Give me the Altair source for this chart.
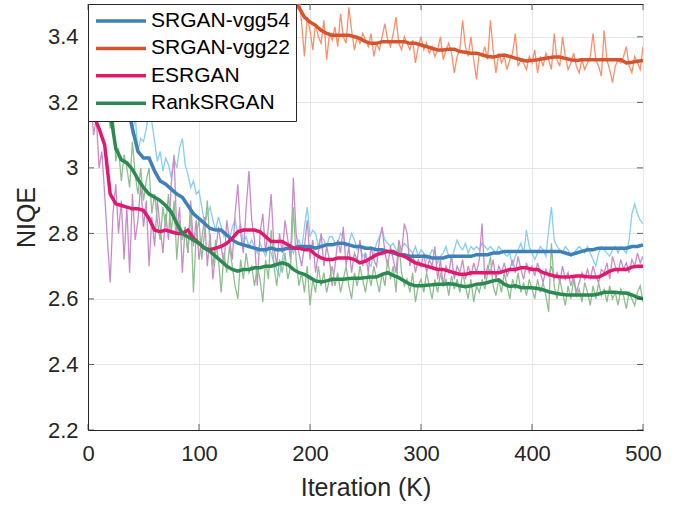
import altair as alt
import pandas as pd

SERIES = ["SRGAN-vgg54", "SRGAN-vgg22", "ESRGAN", "RankSRGAN"]
THICK_COLORS = ["#4080b8", "#d5532f", "#e0196d", "#2a8a52"]
THIN_COLORS = ["#86cdf7", "#ff8d68", "#c98bc9", "#8fbf8f"]

X_TICKS = [0, 100, 200, 300, 400, 500]
Y_TICKS = [2.2, 2.4, 2.6, 2.8, 3.0, 3.2, 3.4]

ITER_SMOOTH = [5 * i for i in range(101)]
ITER_RAW = [2.5 * i for i in range(201)]

VGG54_SMOOTH = [
    3.90, 3.80, 3.70, 3.60, 3.50, 3.40, 3.30, 3.20, 3.12, 3.05,
    3.03, 3.03, 2.99, 2.96, 2.95, 2.935, 2.92, 2.91, 2.885, 2.86,
    2.845, 2.83, 2.815, 2.81, 2.81, 2.795, 2.78, 2.77, 2.765, 2.76,
    2.755, 2.75, 2.75, 2.755, 2.75, 2.75, 2.755, 2.755, 2.76, 2.76,
    2.76, 2.755, 2.76, 2.765, 2.765, 2.77, 2.77, 2.765, 2.76, 2.76,
    2.755, 2.755, 2.75, 2.75, 2.745, 2.74, 2.735, 2.735, 2.73, 2.73,
    2.73, 2.73, 2.725, 2.725, 2.725, 2.73, 2.73, 2.73, 2.73, 2.73,
    2.735, 2.735, 2.735, 2.74, 2.74, 2.745, 2.745, 2.745, 2.745, 2.745,
    2.745, 2.745, 2.745, 2.745, 2.745, 2.745, 2.74, 2.735, 2.74, 2.745,
    2.75, 2.75, 2.755, 2.755, 2.755, 2.755, 2.755, 2.755, 2.76, 2.76, 2.765,
]
VGG22_SMOOTH = [
    4.80, 4.60, 4.45, 4.30, 4.20, 4.10, 4.00, 3.95, 3.90, 3.85,
    3.82, 3.80, 3.77, 3.75, 3.72, 3.70, 3.69, 3.68, 3.67, 3.66,
    3.65, 3.64, 3.63, 3.62, 3.61, 3.60, 3.59, 3.58, 3.575, 3.57,
    3.565, 3.56, 3.55, 3.545, 3.54, 3.535, 3.525, 3.51, 3.49, 3.46,
    3.445, 3.435, 3.42, 3.41, 3.405, 3.405, 3.405, 3.405, 3.40, 3.395,
    3.385, 3.38, 3.38, 3.385, 3.385, 3.385, 3.385, 3.385, 3.38, 3.38,
    3.375, 3.37, 3.365, 3.36, 3.36, 3.362, 3.362, 3.355, 3.353, 3.35,
    3.35, 3.345, 3.34, 3.338, 3.342, 3.344, 3.34, 3.335, 3.33, 3.326,
    3.328, 3.33, 3.333, 3.336, 3.338, 3.338, 3.334, 3.33, 3.328, 3.33,
    3.33, 3.33, 3.33, 3.33, 3.33, 3.33, 3.33, 3.32, 3.322, 3.325, 3.328,
]
ESRGAN_SMOOTH = [
    3.35, 3.16, 3.12, 3.07, 2.92, 2.89, 2.885, 2.88, 2.875, 2.875,
    2.87, 2.845, 2.81, 2.805, 2.81, 2.805, 2.80, 2.80, 2.81, 2.785,
    2.77, 2.755, 2.75, 2.755, 2.76, 2.77, 2.785, 2.805, 2.81, 2.81,
    2.81, 2.805, 2.79, 2.775, 2.775, 2.775, 2.765, 2.755, 2.755, 2.75,
    2.75, 2.735, 2.725, 2.72, 2.72, 2.725, 2.725, 2.725, 2.72, 2.71,
    2.715, 2.725, 2.735, 2.74, 2.745, 2.745, 2.735, 2.73, 2.72, 2.71,
    2.705, 2.70, 2.695, 2.69, 2.69, 2.685, 2.68, 2.675, 2.675, 2.68,
    2.68, 2.68, 2.68, 2.68, 2.68, 2.685, 2.69, 2.69, 2.695, 2.695,
    2.69, 2.69, 2.68, 2.675, 2.67, 2.668, 2.667, 2.668, 2.67, 2.67,
    2.668, 2.667, 2.667, 2.675, 2.685, 2.69, 2.69, 2.69, 2.697, 2.70, 2.70,
]
RANK_SMOOTH = [
    3.70, 3.55, 3.42, 3.30, 3.17, 3.06, 3.025, 3.015, 2.995, 2.965,
    2.94, 2.92, 2.91, 2.90, 2.885, 2.865, 2.83, 2.80, 2.79, 2.78,
    2.77, 2.755, 2.745, 2.73, 2.715, 2.70, 2.69, 2.685, 2.69, 2.69,
    2.695, 2.695, 2.70, 2.70, 2.705, 2.71, 2.705, 2.69, 2.68, 2.675,
    2.665, 2.655, 2.652, 2.655, 2.66, 2.66, 2.66, 2.662, 2.663, 2.663,
    2.665, 2.667, 2.667, 2.675, 2.68, 2.672, 2.665, 2.655, 2.645, 2.64,
    2.64, 2.642, 2.643, 2.645, 2.645, 2.646, 2.645, 2.64, 2.637, 2.64,
    2.645, 2.646, 2.65, 2.655, 2.658, 2.645, 2.638, 2.64, 2.635, 2.634,
    2.634, 2.632, 2.628, 2.622, 2.618, 2.615, 2.613, 2.612, 2.612, 2.612,
    2.612, 2.612, 2.615, 2.62, 2.62, 2.62, 2.618, 2.618, 2.612, 2.605, 2.60,
]

VGG54_RAW = [
    3.95, 3.88, 3.85, 3.80, 3.72, 3.74, 3.66, 3.62, 3.55, 3.58, 3.46, 3.42, 3.35, 3.38, 3.24, 3.22, 3.10, 3.16, 3.05, 3.09,
    3.08, 3.12, 3.18, 3.14, 3.08, 3.02, 3.05, 2.99, 3.03, 3.01, 2.97, 3.03, 3.00, 3.06, 3.09, 3.01, 2.98, 2.94, 2.96, 2.92,
    2.93, 2.88, 2.83, 2.86, 2.88, 2.84, 2.81, 2.85, 2.82, 2.79, 2.80, 2.78, 2.82, 2.84, 2.80, 2.83, 2.77, 2.79, 2.76, 2.78,
    2.76, 2.74, 2.77, 2.75, 2.73, 2.76, 2.74, 2.71, 2.69, 2.67, 2.72, 2.76, 2.75, 2.77, 2.74, 2.76, 2.78, 2.75, 2.82, 2.88,
    2.79, 2.81, 2.80, 2.76, 2.79, 2.78, 2.76, 2.79, 2.79, 2.77, 2.77, 2.80, 2.79, 2.76, 2.77, 2.80, 2.78, 2.75, 2.76, 2.73,
    2.74, 2.71, 2.70, 2.74, 2.77, 2.79, 2.81, 2.78, 2.77, 2.76, 2.77, 2.75, 2.73, 2.75, 2.77, 2.76, 2.75, 2.74, 2.76, 2.73,
    2.75, 2.74, 2.72, 2.73, 2.75, 2.74, 2.71, 2.73, 2.74, 2.76, 2.73, 2.72, 2.75, 2.78, 2.76, 2.75, 2.77, 2.74, 2.76, 2.75,
    2.76, 2.75, 2.77, 2.76, 2.75, 2.76, 2.75, 2.74, 2.76, 2.75, 2.74, 2.73, 2.74, 2.70, 2.73, 2.75, 2.77, 2.74, 2.81, 2.76,
    2.74, 2.72, 2.74, 2.76, 2.75, 2.73, 2.81, 2.88, 2.78, 2.76, 2.75, 2.74, 2.76, 2.75, 2.73, 2.74, 2.75, 2.76, 2.75, 2.74,
    2.76, 2.74, 2.72, 2.70, 2.74, 2.76, 2.75, 2.74, 2.73, 2.75, 2.76, 2.74, 2.76, 2.75, 2.74, 2.78, 2.86, 2.89, 2.86, 2.84, 2.83,
]
VGG22_RAW = [
    4.85, 4.78, 4.62, 4.66, 4.48, 4.52, 4.40, 4.33, 4.25, 4.28, 4.15, 4.20, 4.08, 4.12, 4.00, 4.05, 3.96, 3.92, 3.94, 3.86,
    3.84, 3.80, 3.82, 3.77, 3.80, 3.74, 3.77, 3.72, 3.75, 3.70, 3.72, 3.68, 3.71, 3.67, 3.69, 3.66, 3.68, 3.64, 3.67, 3.65,
    3.66, 3.62, 3.65, 3.63, 3.60, 3.64, 3.61, 3.63, 3.59, 3.62, 3.60, 3.57, 3.61, 3.58, 3.60, 3.56, 3.59, 3.57, 3.58, 3.52,
    3.57, 3.54, 3.49, 3.58, 3.55, 3.51, 3.56, 3.53, 3.48, 3.55, 3.52, 3.56, 3.49, 3.53, 3.51, 3.47, 3.53, 3.44, 3.34, 3.46,
    3.42, 3.36, 3.44, 3.40, 3.38, 3.45, 3.33, 3.41, 3.39, 3.43, 3.37, 3.47, 3.40, 3.38, 3.49, 3.42, 3.36, 3.40, 3.38, 3.41,
    3.39, 3.37, 3.41, 3.34, 3.38, 3.36, 3.40, 3.44, 3.39, 3.37, 3.41, 3.46, 3.38, 3.36, 3.40, 3.38, 3.36, 3.39, 3.32, 3.37,
    3.40, 3.36, 3.38, 3.35, 3.37, 3.34, 3.36, 3.40, 3.33, 3.36, 3.38, 3.35, 3.29, 3.34, 3.36, 3.45, 3.37, 3.34, 3.40, 3.33,
    3.27, 3.35, 3.34, 3.37, 3.33, 3.45, 3.36, 3.29, 3.35, 3.32, 3.34, 3.30, 3.33, 3.35, 3.41, 3.31, 3.33, 3.32, 3.30, 3.34,
    3.32, 3.36, 3.29, 3.34, 3.31, 3.35, 3.33, 3.30, 3.41, 3.33, 3.31, 3.40, 3.34, 3.30, 3.32, 3.35, 3.31, 3.29, 3.33, 3.30,
    3.32, 3.34, 3.41, 3.33, 3.31, 3.28, 3.42, 3.33, 3.30, 3.26, 3.31, 3.33, 3.32, 3.34, 3.37, 3.31, 3.29, 3.34, 3.32, 3.30, 3.37,
]
ESRGAN_RAW = [
    3.30, 3.22, 3.10, 3.15, 3.00, 3.05, 2.92, 2.78, 2.65, 2.86, 2.95, 2.80, 2.90, 2.72, 2.88, 2.68, 2.92, 2.78, 2.84, 2.95,
    2.82, 2.90, 2.70, 2.85, 2.76, 2.90, 2.82, 2.74, 2.86, 2.78, 2.95, 3.04, 2.80, 2.88, 2.68, 2.82, 2.74, 2.90, 2.76, 2.84,
    2.72, 2.78, 2.85, 2.70, 2.80, 2.66, 2.74, 2.82, 2.76, 2.70, 2.84, 2.78, 2.72, 2.86, 2.95, 2.80, 2.74, 2.88, 2.99, 2.84,
    2.78, 2.64, 2.80, 2.86, 2.74, 2.82, 2.92, 2.76, 2.70, 2.80, 2.74, 2.84, 2.78, 2.72, 2.97, 2.80, 2.74, 2.70, 2.76, 2.84,
    2.72, 2.78, 2.68, 2.74, 2.80, 2.70, 2.76, 2.72, 2.64, 2.70, 2.78, 2.74, 2.82, 2.70, 2.76, 2.68, 2.74, 2.72, 2.78, 2.70,
    2.74, 2.68, 2.76, 2.72, 2.70, 2.78, 2.82, 2.74, 2.70, 2.76, 2.72, 2.68, 2.78, 2.74, 2.83, 2.80, 2.70, 2.74, 2.68, 2.72,
    2.70, 2.74, 2.68, 2.72, 2.70, 2.76, 2.66, 2.72, 2.64, 2.70, 2.68, 2.73, 2.66, 2.70, 2.68, 2.72, 2.66, 2.70, 2.67, 2.71,
    2.68, 2.72, 2.83, 2.66, 2.70, 2.68, 2.72, 2.66, 2.70, 2.68, 2.71, 2.67, 2.69, 2.72, 2.68, 2.73, 2.69, 2.66, 2.71, 2.68,
    2.70, 2.67, 2.71, 2.68, 2.65, 2.69, 2.67, 2.70, 2.66, 2.68, 2.65, 2.70, 2.66, 2.68, 2.64, 2.67, 2.62, 2.65, 2.68, 2.66,
    2.69, 2.66, 2.70, 2.67, 2.65, 2.69, 2.68, 2.71, 2.66, 2.73, 2.70, 2.68, 2.72, 2.69, 2.71, 2.68, 2.72, 2.70, 2.74, 2.71, 2.73,
]
RANK_RAW = [
    3.72, 3.60, 3.55, 3.46, 3.40, 3.34, 3.28, 3.20, 3.12, 3.18, 3.02, 3.06, 2.96, 3.04, 3.00, 2.94, 3.08, 2.98, 2.92, 3.00,
    2.90, 2.96, 3.00, 2.86, 2.92, 2.84, 2.78, 2.88, 2.82, 2.92, 2.80, 2.90, 2.72, 2.84, 2.78, 2.82, 2.74, 2.87, 2.62, 2.80,
    2.84, 2.72, 2.80, 2.90, 2.76, 2.70, 2.78, 2.72, 2.62, 2.74, 2.68, 2.76, 2.70, 2.64, 2.60, 2.72, 2.66, 2.74, 2.68, 2.70,
    2.64, 2.70, 2.66, 2.59, 2.72, 2.66, 2.81, 2.70, 2.64, 2.72, 2.68, 2.74, 2.66, 2.70, 2.88, 2.72, 2.64, 2.68, 2.62, 2.70,
    2.58, 2.66, 2.62, 2.70, 2.64, 2.68, 2.62, 2.66, 2.70, 2.64, 2.68, 2.62, 2.66, 2.70, 2.64, 2.60, 2.68, 2.64, 2.70, 2.66,
    2.62, 2.68, 2.64, 2.70, 2.66, 2.62, 2.68, 2.64, 2.72, 2.66, 2.70, 2.62, 2.77, 2.68, 2.64, 2.66, 2.62, 2.68, 2.59, 2.64,
    2.66, 2.62, 2.68, 2.64, 2.60, 2.66, 2.62, 2.68, 2.64, 2.66, 2.61, 2.67, 2.63, 2.66, 2.62, 2.68, 2.64, 2.60, 2.66, 2.59,
    2.64, 2.62, 2.66, 2.63, 2.68, 2.73, 2.64, 2.61, 2.66, 2.62, 2.68, 2.64, 2.60, 2.66, 2.63, 2.68, 2.62, 2.65, 2.61, 2.66,
    2.63, 2.60, 2.66, 2.62, 2.65, 2.61, 2.56, 2.77, 2.64, 2.60, 2.66, 2.62, 2.58, 2.64, 2.60, 2.66, 2.61, 2.63, 2.59, 2.65,
    2.62, 2.58, 2.64, 2.60, 2.65, 2.61, 2.63, 2.59, 2.64, 2.60, 2.62, 2.58, 2.63, 2.61, 2.57, 2.62, 2.60, 2.58, 2.62, 2.64, 2.59,
]

smooth_vals = [VGG54_SMOOTH, VGG22_SMOOTH, ESRGAN_SMOOTH, RANK_SMOOTH]
raw_vals = [VGG54_RAW, VGG22_RAW, ESRGAN_RAW, RANK_RAW]

smooth_rows, raw_rows = [], []
for idx, (name, sv, rv) in enumerate(zip(SERIES, smooth_vals, raw_vals)):
    for it, v in zip(ITER_SMOOTH, sv):
        smooth_rows.append({"iter": it, "niqe": v, "series": name, "ord": idx})
    for it, v in zip(ITER_RAW, rv):
        raw_rows.append({"iter": it, "niqe": v, "series": name, "ord": idx})
smooth_df = pd.DataFrame(smooth_rows)
raw_df = pd.DataFrame(raw_rows)

FONT = "Liberation Sans"
AX = "#262626"
X_TITLE = "Iteration (K)"
Y_TITLE = "NIQE"
x_scale = alt.Scale(domain=[0, 500], nice=False, zero=False)
y_scale = alt.Scale(domain=[2.2, 3.5], nice=False, zero=False)

x_axis = alt.Axis(values=X_TICKS, tickSize=0, labelFontSize=22, labelFont=FONT,
                  labelColor=AX, labelPadding=13, titleFontSize=25, titleFont=FONT,
                  titleFontWeight="normal", titleColor=AX, titlePadding=11,
                  grid=True, gridColor="#e6e6e6", domainColor=AX, labelFlush=False)
y_axis = alt.Axis(values=Y_TICKS, tickSize=0, format=".1~f", labelFontSize=22, labelFont=FONT,
                  labelColor=AX, labelPadding=10, titleFontSize=25, titleFont=FONT,
                  titleFontWeight="normal", titleColor=AX, titlePadding=8,
                  grid=True, gridColor="#e6e6e6", domainColor=AX, labelFlush=False)

thin = alt.Chart(raw_df).mark_line(strokeWidth=1.3, clip=True).encode(
    x=alt.X("iter:Q", scale=x_scale, axis=x_axis, title=X_TITLE),
    y=alt.Y("niqe:Q", scale=y_scale, axis=y_axis, title=Y_TITLE),
    color=alt.Color("series:N", scale=alt.Scale(domain=SERIES, range=THIN_COLORS), legend=None),
    detail="series:N",
)

thick = alt.Chart(smooth_df).mark_line(strokeWidth=3.5, clip=True).encode(
    x=alt.X("iter:Q", scale=x_scale, axis=x_axis, title=X_TITLE),
    y=alt.Y("niqe:Q", scale=y_scale, axis=y_axis, title=Y_TITLE),
    color=alt.Color("series:N", scale=alt.Scale(domain=SERIES, range=THICK_COLORS),
                    sort=SERIES,
                    legend=alt.Legend(title=None, orient="top-left", offset=0,
                                      fillColor="white", strokeColor=AX, padding=6,
                                      labelFontSize=21, labelFont=FONT, labelColor="black",
                                      symbolType="stroke", symbolSize=2500,
                                      symbolStrokeWidth=3.5, labelOffset=3,
                                      clipHeight=22, rowPadding=5.4, labelLimit=400)),
    order="ord:Q",
)

xt = pd.DataFrame({"iter": X_TICKS})
yt = pd.DataFrame({"niqe": Y_TICKS})
tick_style = dict(size=6, thickness=1, color=AX)
bottom_ticks = alt.Chart(xt).mark_tick(orient="vertical", yOffset=-3, **tick_style).encode(
    x=alt.X("iter:Q", scale=x_scale, axis=x_axis, title=X_TITLE), y=alt.datum(2.2))
top_ticks = alt.Chart(xt).mark_tick(orient="vertical", yOffset=3, **tick_style).encode(
    x=alt.X("iter:Q", scale=x_scale, axis=x_axis, title=X_TITLE), y=alt.datum(3.5))
left_ticks = alt.Chart(yt).mark_tick(orient="horizontal", xOffset=3, **tick_style).encode(
    y=alt.Y("niqe:Q", scale=y_scale, axis=y_axis, title=Y_TITLE), x=alt.datum(0))
right_ticks = alt.Chart(yt).mark_tick(orient="horizontal", xOffset=-3, **tick_style).encode(
    y=alt.Y("niqe:Q", scale=y_scale, axis=y_axis, title=Y_TITLE), x=alt.datum(500))

chart = alt.layer(thin, thick, bottom_ticks, top_ticks, left_ticks, right_ticks).resolve_scale(
    color="independent"
).properties(
    width=555, height=426,
    autosize=alt.AutoSizeParams(type="none"),
    padding={"left": 88, "top": 4, "right": 42, "bottom": 76},
    background="white",
).configure_view(stroke=AX, strokeWidth=1)

chart.save("out.html", embed_options={"renderer": "svg", "actions": False})
